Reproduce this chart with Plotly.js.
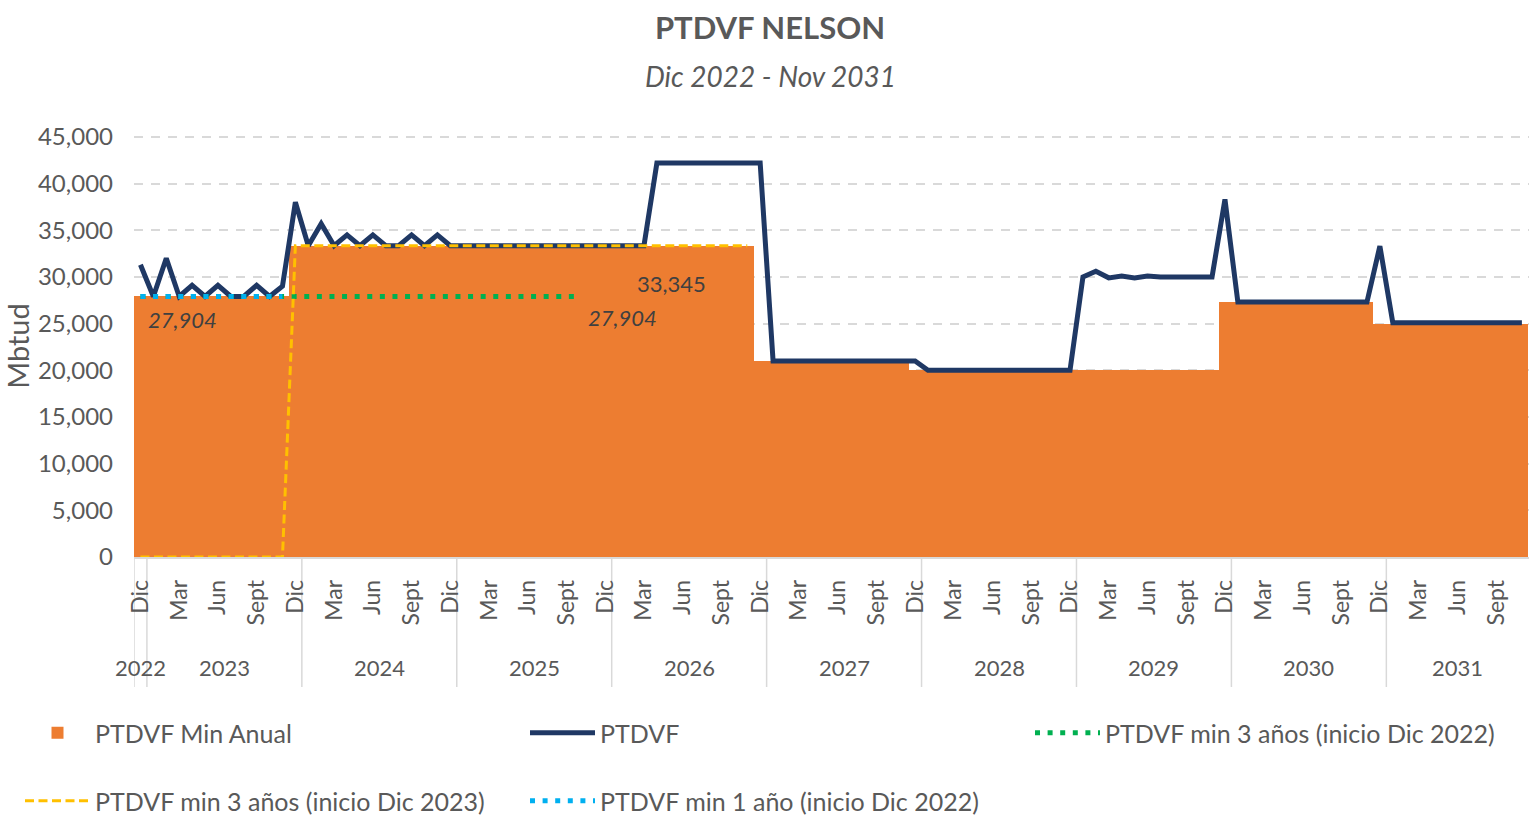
<!DOCTYPE html>
<html><head><meta charset="utf-8">
<script src="https://cdn.plot.ly/plotly-3.0.1.min.js"></script>
<style>html,body{margin:0;padding:0;background:#fff;}#chart{width:1529px;height:816px;}</style>
</head><body><div id="chart"></div>
<script>
// ---- categories ----
const monthNames = ['Ene','Feb','Mar','Abr','May','Jun','Jul','Ago','Sept','Oct','Nov','Dic'];
const startYear = 2022;           // first month: Dic 2022
const startMonthIndex = 11;
const nMonths = 108;              // Dic 2022 - Nov 2031
const tickMonths = ['Dic','Mar','Jun','Sept'];
const yearLabels = ['2022','2023','2024','2025','2026','2027','2028','2029','2030','2031'];
const yTickVals = [0,5000,10000,15000,20000,25000,30000,35000,40000,45000];

// ---- series (Mbtud) ----
const minAnual = [
 27904,27904,27904,27904,27904,27904,27904,27904,27904,27904,27904,27904,
 33345,33345,33345,33345,33345,33345,33345,33345,33345,33345,33345,33345,
 33345,33345,33345,33345,33345,33345,33345,33345,33345,33345,33345,33345,
 33345,33345,33345,33345,33345,33345,33345,33345,33345,33345,33345,33345,
 21000,21000,21000,21000,21000,21000,21000,21000,21000,21000,21000,21000,
 20000,20000,20000,20000,20000,20000,20000,20000,20000,20000,20000,20000,
 20000,20000,20000,20000,20000,20000,20000,20000,20000,20000,20000,20000,
 27300,27300,27300,27300,27300,27300,27300,27300,27300,27300,27300,27300,
 25000,25000,25000,25000,25000,25000,25000,25000,25000,25000,25000,25000
];
const ptdvf = [
 31300,27904,32000,27904,29100,27904,29100,27904,27904,29100,27904,29000,
 38000,33345,35700,33345,34500,33345,34500,33345,33345,34500,33345,34500,
 33345,33345,33345,33345,33345,33345,33345,33345,33345,33345,33345,33345,
 33345,33345,33345,33345,42200,42200,42200,42200,42200,42200,42200,42200,
 42200,21000,21000,21000,21000,21000,21000,21000,21000,21000,21000,21000,
 21000,20000,20000,20000,20000,20000,20000,20000,20000,20000,20000,20000,
 20000,30000,30600,29900,30100,29900,30100,30000,30000,30100,30000,30000,
 38300,27300,27300,27300,27300,27300,27300,27300,27300,27300,27300,27300,
 33300,25100,25100,25100,25100,25100,25100,25100,25100,25100,25100,25100
];
const min3Dic2022 = [
 27904,27904,27904,27904,27904,27904,27904,27904,27904,27904,27904,27904,
 27904,27904,27904,27904,27904,27904,27904,27904,27904,27904,27904,27904,
 27904,27904,27904,27904,27904,27904,27904,27904,27904,27904,27904
];
const min3Dic2023 = [
 0,0,0,0,0,0,0,0,0,0,0,0,
 33345,33345,33345,33345,33345,33345,33345,33345,33345,33345,33345,33345,
 33345,33345,33345,33345,33345,33345,33345,33345,33345,33345,33345,33345,
 33345,33345,33345,33345,33345,33345,33345,33345,33345,33345,33345,33345
];
const min1Dic2022 = [27904,27904,27904,27904,27904,27904,27904,27904,27904,27904,27904,27904];

// ---- derived category info ----
const idx = Array.from({length:nMonths}, (_, i) => i);
const monthOf = idx.map(i => monthNames[(startMonthIndex + i) % 12]);
const yearOf = idx.map(i => String(startYear + Math.floor((startMonthIndex + i) / 12)));
const catLabels = idx.map(i => monthOf[i] + ' ' + yearOf[i]);
const tickVals = idx.filter(i => tickMonths.includes(monthOf[i]));
const tickText = tickVals.map(i => monthOf[i]);

const gray = '#595959';
const fam = 'Lato, "Open Sans", sans-serif';
const xOf = arr => arr.map((_, i) => i);
const fmt = v => v.toLocaleString('en-US');

const traces = [
  {type:'bar', name:'PTDVF Min Anual', x: idx, y: minAnual, width: 1,
   marker:{color:'#ED7D31', line:{width:0}}, legend:'legend', customdata: catLabels,
   hovertemplate:'%{customdata}: %{y:,}<extra></extra>'},
  {type:'scatter', mode:'lines', name:'PTDVF', x: idx, y: ptdvf,
   line:{color:'#1F3864', width:5}, legend:'legend', customdata: catLabels,
   hovertemplate:'%{customdata}: %{y:,}<extra></extra>'},
  {type:'scatter', mode:'lines', name:'PTDVF min 3 años (inicio Dic 2022)', x: xOf(min3Dic2022), y: min3Dic2022,
   line:{color:'#00B050', width:5, dash:'5px,7.6px'}, legend:'legend3'},
  {type:'scatter', mode:'lines', name:'PTDVF min 3 años (inicio Dic 2023)', x: xOf(min3Dic2023), y: min3Dic2023,
   line:{color:'#FFC000', width:3, dash:'9px,4.5px'}, legend:'legend2'},
  {type:'scatter', mode:'lines', name:'PTDVF min 1 año (inicio Dic 2022)', x: xOf(min1Dic2022), y: min1Dic2022,
   line:{color:'#00B0F0', width:5, dash:'5px,7.6px'}, legend:'legend2'}
];

// year group labels and dividers
const annotations = [];
const shapes = [];
yearLabels.forEach(y => {
  const members = idx.filter(i => yearOf[i] === y);
  const c = (members[0] + members[members.length - 1]) / 2;
  annotations.push({xref:'x', yref:'paper', x:c, y:-0.263, text:y, showarrow:false,
    font:{family:fam, size:22, color:gray}, xanchor:'center', yanchor:'middle'});
});
const boundaries = [-0.5].concat(idx.filter(i => monthOf[i] === 'Dic').map(i => i + 0.5));
boundaries.forEach(b => {
  shapes.push({type:'line', xref:'x', yref:'paper', x0:b, x1:b, y0:0, y1:-0.308,
    line:{color:'#D9D9D9', width:1.5}, layer:'below'});
});

// data labels
const lblFont = {family:fam, size:22, color:'#404040'};
annotations.push({xref:'x', yref:'y', x:3, y:min1Dic2022[3], text:'<i>' + fmt(min1Dic2022[3]) + '</i>',
  showarrow:false, xshift:3, yshift:-23, font:lblFont});
const gl = min3Dic2022.length - 1;
annotations.push({xref:'x', yref:'y', x:gl, y:min3Dic2022[gl], text:'<i>' + fmt(min3Dic2022[gl]) + '</i>',
  showarrow:false, xshift:43, yshift:-21, font:lblFont});
annotations.push({xref:'x', yref:'y', x:41, y:min3Dic2023[41], text:fmt(min3Dic2023[41]),
  showarrow:false, xshift:2, yshift:-38, font:lblFont});

// subtitle
annotations.push({xref:'paper', yref:'paper', x:(770-134)/1395, y:(557-76)/422, text:'Dic 2022 - Nov 2031',
  showarrow:false, xanchor:'center', yanchor:'middle',
  font:{family:fam, size:28, color:gray, style:'italic'}});

const legendCommon = {orientation:'h', xref:'container', yref:'container', xanchor:'left', yanchor:'middle',
  x: 20/1529, itemwidth:65, entrywidth:425, font:{family:fam, size:25, color:gray},
  bgcolor:'rgba(0,0,0,0)', itemclick:false, itemdoubleclick:false};

const layout = {
  width:1529, height:816,
  margin:{l:134, r:0, t:135, b:259, autoexpand:false},
  paper_bgcolor:'#fff', plot_bgcolor:'#fff',
  font:{family:fam, color:gray},
  bargap:0,
  title:{text:'PTDVF NELSON', font:{family:fam, size:31, color:gray, weight:'bold'},
    xref:'container', x:770/1529, xanchor:'center', yref:'container', y:1-28/816, yanchor:'middle'},
  xaxis:{range:[-0.5, 107.55], tickmode:'array', tickvals:tickVals, ticktext:tickText, tickangle:-90,
    tickfont:{family:fam, size:23, color:gray}, ticks:'', ticklabelstandoff:12,
    showgrid:false, zeroline:false, showline:true, linecolor:'#D9D9D9', linewidth:1.5, fixedrange:true},
  yaxis:{range:[0,45200], tickmode:'array', tickvals:yTickVals, tickformat:',d',
    tickfont:{family:fam, size:24, color:gray}, ticks:'', ticklabelstandoff:20,
    showgrid:true, gridcolor:'#D9D9D9', gridwidth:2, griddash:'9px,8px', zeroline:false, showline:false,
    title:{text:'Mbtud', font:{family:fam, size:29, color:gray}, standoff:2}, fixedrange:true},
  legend: Object.assign({}, legendCommon, {y: 1-733/816}),
  legend3: Object.assign({}, legendCommon, {x: 1030/1529, y: 1-733/816}),
  legend2: Object.assign({}, legendCommon, {y: 1-801/816}),
  annotations: annotations,
  shapes: shapes,
  showlegend:true
};

Plotly.newPlot('chart', traces, layout, {displayModeBar:false, responsive:false});
</script>
</body></html>
